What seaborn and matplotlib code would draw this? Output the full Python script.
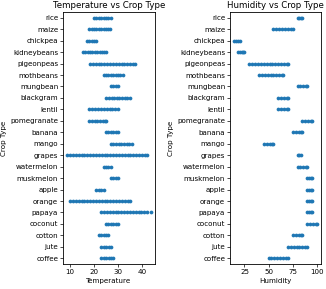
import matplotlib
matplotlib.use("Agg")
import matplotlib.pyplot as plt
import seaborn as sns
import pandas as pd

crops = ["rice", "maize", "chickpea", "kidneybeans", "pigeonpeas", "mothbeans",
         "mungbean", "blackgram", "lentil", "pomegranate", "banana", "mango",
         "grapes", "watermelon", "muskmelon", "apple", "orange", "papaya",
         "coconut", "cotton", "jute", "coffee"]

temperature = {
    "rice": [20.0, 21.0, 22.0, 23.0, 24.0, 25.0, 26.0, 26.9],
    "maize": [18.0, 19.0, 20.0, 21.0, 22.0, 23.0, 24.0, 25.0, 26.0, 26.5],
    "chickpea": [17.0, 18.0, 19.0, 20.0, 21.0],
    "kidneybeans": [15.3, 16.3, 17.3, 18.3, 19.3, 20.3, 21.3, 22.3, 23.3, 24.3, 25.0],
    "pigeonpeas": [18.3, 19.5, 20.7, 21.9, 23.1, 24.3, 25.5, 26.7, 27.9, 29.1, 30.3,
                   31.5, 32.7, 33.9, 35.1, 36.3, 37.0],
    "mothbeans": [24.0, 25.0, 26.0, 27.0, 28.0, 29.0, 30.0, 31.0, 32.0],
    "mungbean": [27.0, 28.0, 29.0, 29.9],
    "blackgram": [25.1, 26.2, 27.3, 28.4, 29.5, 30.6, 31.7, 32.8, 33.9, 35.0],
    "lentil": [18.1, 19.3, 20.5, 21.7, 22.9, 24.1, 25.3, 26.5, 27.7, 28.9, 30.0],
    "pomegranate": [18.1, 19.2, 20.3, 21.4, 22.5, 23.6, 24.7, 25.0],
    "banana": [25.0, 26.0, 27.0, 28.0, 29.0, 29.9],
    "mango": [27.0, 28.1, 29.2, 30.3, 31.4, 32.5, 33.6, 34.7, 36.0],
    "grapes": [8.8, 10.0, 11.2, 12.4, 13.6, 14.8, 16.0, 17.2, 18.4, 19.6, 20.8, 22.0,
               23.2, 24.4, 25.6, 26.8, 28.0, 29.2, 30.4, 31.6, 32.8, 34.0, 35.2, 36.4,
               37.6, 38.8, 40.0, 41.2, 41.9],
    "watermelon": [24.0, 25.0, 26.0, 27.0],
    "muskmelon": [27.0, 28.0, 29.0, 29.9],
    "apple": [21.0, 22.0, 23.0, 24.0],
    "orange": [10.0, 11.2, 12.4, 13.6, 14.8, 16.0, 17.2, 18.4, 19.6, 20.8, 22.0, 23.2,
               24.4, 25.6, 26.8, 28.0, 29.2, 30.4, 31.6, 32.8, 34.0, 34.9],
    "papaya": [23.0, 24.2, 25.4, 26.6, 27.8, 29.0, 30.2, 31.4, 32.6, 33.8, 35.0, 36.2,
               37.4, 38.6, 39.8, 41.0, 42.2, 43.7],
    "coconut": [25.0, 26.0, 27.0, 28.0, 29.0, 29.9],
    "cotton": [22.0, 23.0, 24.0, 25.0, 26.0],
    "jute": [23.1, 24.1, 25.1, 26.1, 27.0],
    "coffee": [23.1, 24.1, 25.1, 26.1, 27.1, 27.9],
}

humidity = {
    "rice": [80, 82, 84, 85],
    "maize": [55, 58, 61, 64, 67, 70, 73, 75],
    "chickpea": [14.3, 16, 18, 20],
    "kidneybeans": [18, 20, 22, 24, 25],
    "pigeonpeas": [30, 33, 36, 39, 42, 45, 48, 51, 54, 57, 60, 63, 66, 69, 70],
    "mothbeans": [40, 43, 46, 49, 52, 55, 58, 61, 64, 65],
    "mungbean": [80, 83, 86, 89, 90],
    "blackgram": [60, 63, 66, 69, 70],
    "lentil": [60, 63, 66, 69, 70],
    "pomegranate": [85, 88, 91, 94, 95],
    "banana": [75, 78, 81, 84, 85],
    "mango": [45, 48, 51, 54, 55],
    "grapes": [80, 82, 84],
    "watermelon": [80, 83, 86, 89, 90],
    "muskmelon": [90, 92, 94, 95],
    "apple": [90, 92, 94, 95],
    "orange": [90, 92, 94, 95],
    "papaya": [90, 92, 94, 95],
    "coconut": [90, 93, 96, 99, 100],
    "cotton": [75, 78, 81, 84, 85],
    "jute": [70, 73, 76, 79, 82, 85, 88, 90],
    "coffee": [50, 53, 56, 59, 62, 65, 68, 70],
}

def to_long(d, name):
    rows = []
    for c in crops:
        for v in d[c]:
            rows.append({"label": c, name: v})
    return pd.DataFrame(rows)

df_t = to_long(temperature, "Temperature")
df_h = to_long(humidity, "Humidity")

fs = 5.1
fig = plt.figure(figsize=(3.26, 2.89), dpi=100)
ax1 = fig.add_axes([63/326, 1 - 264/289, 92/326, (264 - 12)/289])
ax2 = fig.add_axes([230/326, 1 - 264/289, 91/326, (264 - 12)/289])

for ax, df, col in [(ax1, df_t, "Temperature"), (ax2, df_h, "Humidity")]:
    sns.stripplot(data=df, x=col, y="label", order=crops, jitter=False, size=2.7,
                  color="#1f77b4", ax=ax)
    ax.set_title(f"{col} vs Crop Type", fontsize=6.2, pad=3)
    ax.set_xlabel(col, fontsize=fs, labelpad=2)
    ax.set_ylabel("Crop Type", fontsize=fs, labelpad=2)
    ax.tick_params(labelsize=fs, length=2, width=0.5, pad=1.5)
    for s in ax.spines.values():
        s.set_linewidth(0.6)

ax1.set_xticks([10, 20, 30, 40])
ax2.set_xticks([25, 50, 75, 100])

fig.savefig("out.png", dpi=100)
